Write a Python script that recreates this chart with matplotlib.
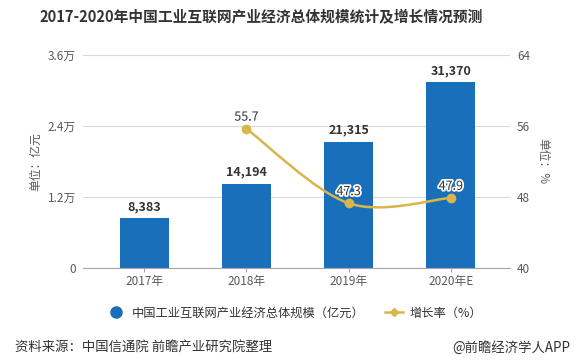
import matplotlib
matplotlib.use("Agg")
import matplotlib.pyplot as plt
from matplotlib.path import Path
from matplotlib.patches import PathPatch
from matplotlib.lines import Line2D
import matplotlib.patheffects as pe
import numpy as np

plt.rcParams['font.family'] = ['Noto Sans CJK SC', 'DejaVu Sans']

categories = ['2017年', '2018年', '2019年', '2020年E']
scale_values = [8383, 14194, 21315, 31370]
growth_years = [1, 2, 3]
growth_values = [55.7, 47.3, 47.9]
left_ticks = [0, 12000, 24000, 36000]
left_ticklabels = ['0', '1.2万', '2.4万', '3.6万']
right_ticks = [40, 48, 56, 64]

bar_color = '#1a6fba'
line_color = '#d9b64a'
grid_color = '#d9d9d9'
tick_color = '#595959'

fig = plt.figure(figsize=(5.81, 3.61), dpi=100)
W, H = 581, 361
ax = fig.add_axes([83 / W, 1 - 268 / H, (510 - 83) / W, (268 - 55) / H])
x = np.arange(len(categories))
ax.bar(x, scale_values, width=0.48, color=bar_color, zorder=2)
ax.set_xlim(-0.60, 3.58)
ax.set_ylim(0, 36000)
ax.set_yticks(left_ticks)
ax.set_yticklabels(left_ticklabels)
ax.set_xticks(x)
ax.set_xticklabels(categories)
ax.grid(axis='y', color=grid_color, linewidth=0.8, zorder=0)
for s in ['top', 'right', 'left']:
    ax.spines[s].set_visible(False)
ax.spines['bottom'].set_color('#a6a6a6')
ax.tick_params(axis='y', length=0, labelsize=8.5, colors=tick_color, pad=5)
ax.tick_params(axis='x', length=3, color='#a6a6a6', labelsize=8.5, colors=tick_color, pad=2)
for xi, v in zip(x, scale_values):
    ax.text(xi, v + 900, f'{v:,}', ha='center', va='bottom', fontsize=9,
            fontweight='bold', color='#333333')
ax.set_ylabel('单位：亿元', fontsize=8.5, color=tick_color, labelpad=4)

ax2 = ax.twinx()
ax2.set_ylim(40, 64)
ax2.set_yticks(right_ticks)
for s in ['top', 'right', 'left', 'bottom']:
    ax2.spines[s].set_visible(False)
ax2.tick_params(axis='y', length=0, labelsize=8.5, colors=tick_color, pad=5)
ax2.set_ylabel('单位：%', fontsize=8.5, color=tick_color, rotation=270, labelpad=14)

# smooth curve (Catmull-Rom -> cubic Bezier) through the growth points
px = np.array(growth_years, dtype=float)
py = np.array(growth_values, dtype=float)
pts = np.column_stack([px, py])
verts = [tuple(pts[0])]
codes = [Path.MOVETO]
n = len(pts)
for i in range(n - 1):
    p0 = pts[i - 1] if i > 0 else pts[i]
    p1 = pts[i]
    p2 = pts[i + 1]
    p3 = pts[i + 2] if i + 2 < n else pts[i + 1]
    c1 = p1 + (p2 - p0) / 6
    c2 = p2 - (p3 - p1) / 6
    verts += [tuple(c1), tuple(c2), tuple(p2)]
    codes += [Path.CURVE4] * 3
ax2.add_patch(PathPatch(Path(verts, codes), facecolor='none', edgecolor=line_color,
                        linewidth=1.8, zorder=3))
ax2.plot(px, py, linestyle='none', marker='o', markersize=6, color=line_color, zorder=4)
for xi, v in zip(px, py):
    ax2.text(xi, v + 1.3, f'{v}', ha='center', va='center', fontsize=9,
             color='#333333', zorder=5,
             path_effects=[pe.withStroke(linewidth=2.5, foreground='white')])

fig.text(261 / W, 1 - 17 / H, '2017-2020年中国工业互联网产业经济总体规模统计及增长情况预测',
         ha='center', va='center', fontsize=10.6, fontweight='bold', color='#333333')

handles = [
    Line2D([], [], linestyle='none', marker='o', markersize=8, color=bar_color),
    Line2D([], [], linestyle='-', marker='D', markersize=4, color=line_color, linewidth=1.8),
]
fig.legend(handles, ['中国工业互联网产业经济总体规模（亿元）', '增长率（%）'],
           loc='center left', bbox_to_anchor=(107.5 / W, 1 - 313 / H), ncol=2, frameon=False,
           fontsize=8.8, handlelength=1.4, columnspacing=1.7, handletextpad=0.6,
           borderpad=0, borderaxespad=0, labelcolor='#333333')

fig.text(15 / W, 1 - 348 / H, '资料来源：中国信通院 前瞻产业研究院整理', ha='left', va='center',
         fontsize=9.6, color='#333333')
fig.text(570 / W, 1 - 348 / H, '@前瞻经济学人APP', ha='right', va='center',
         fontsize=9.6, color='#333333')

fig.savefig('out.png', dpi=100)
